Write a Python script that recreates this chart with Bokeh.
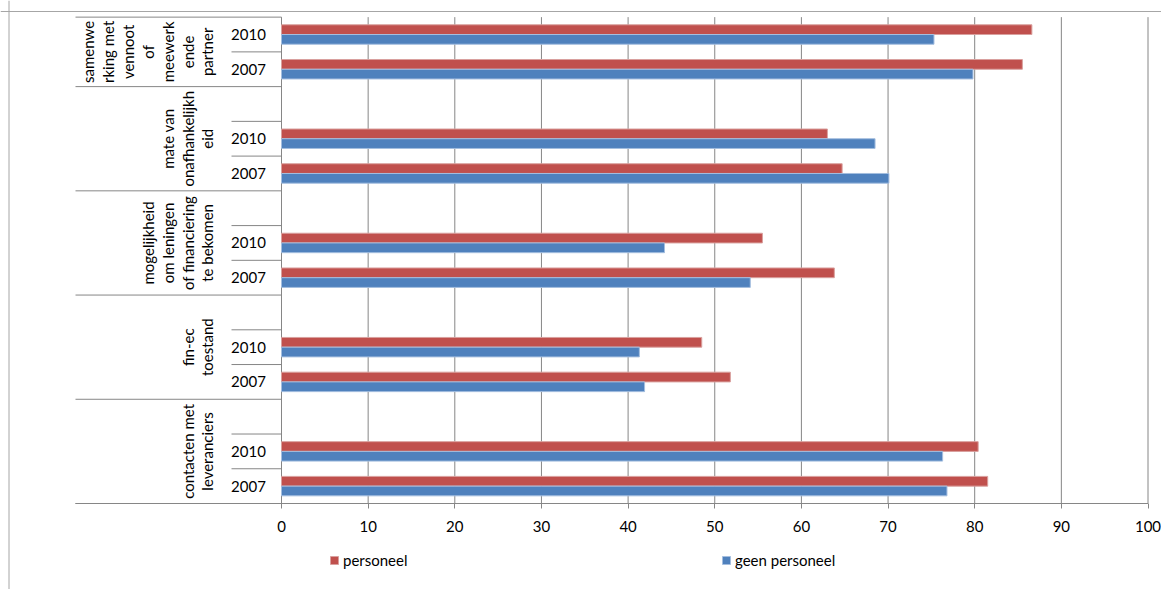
import numpy as np
from bokeh.plotting import figure
from bokeh.models import Range1d, FixedTicker, Legend, LegendItem, Span, ColumnDataSource
from bokeh.core.properties import value
from bokeh.embed import file_html
from bokeh.resources import INLINE

# ---------------- data ----------------
groups = [
    "contacten met\nleveranciers",
    "fin-ec\ntoestand",
    "mogelijkheid\nom leningen\nof financiering\nte bekomen",
    "mate van\nonafhankelijkh\neid",
    "samenwe\nrking met\nvennoot\nof\nmeewerk\nende\npartner",
]
years = ["2007", "2010"]
# values per group, in order (2007, 2010)
personeel = [81.5, 80.4, 51.8, 48.5, 63.8, 55.5, 64.7, 63.0, 85.5, 86.6]
geen_personeel = [76.8, 76.3, 41.9, 41.3, 54.1, 44.2, 70.1, 68.5, 79.8, 75.3]
x_ticks = [0, 10, 20, 30, 40, 50, 60, 70, 80, 90, 100]
series_names = ["personeel", "geen personeel"]

# ---------------- layout helpers ----------------
W, H = 1161, 589
PAGE = 0
X0_PX, X_SCALE = 281, 8.665          # page px of value 0, px per unit
YB_PX, Y_SCALE = 503, 34.74           # page px of bottom row edge, px per row

def px2x(px):
    return (px - X0_PX) / X_SCALE

def px2y(py):
    return 0.5 + (YB_PX - py) / Y_SCALE

RED, BLUE = "#C0504D", "#4F81BD"
GRID = "#868686"
FONT = value("Lato")

n_groups = len(groups)
n_years = len(years)
rows = [3 * g + k + 1 for g in range(n_groups) for k in range(n_years)]
year_labels = [years[k] for g in range(n_groups) for k in range(n_years)]
top_row = max(rows) + 0.5
group_centers = [(3 * g + 0.5 + min(3 * g + 3.5, top_row)) / 2 for g in range(n_groups)]

p = figure(width=W, height=H, output_backend="svg", toolbar_location=None,
           x_range=Range1d(px2x(PAGE), px2x(PAGE + W)),
           y_range=Range1d(px2y(PAGE + H), px2y(PAGE)),
           y_axis_location=None,
           min_border_left=0, min_border_right=0, min_border_top=0,
           min_border_bottom=0)
p.outline_line_color = None
p.xgrid.grid_line_color = None
p.ygrid.grid_line_color = None
p.background_fill_color = "white"
p.border_fill_color = "white"

# vertical grid lines (0..100)
p.segment(x0=x_ticks, x1=x_ticks, y0=[0.5] * len(x_ticks), y1=[top_row] * len(x_ticks),
          line_color=GRID, line_width=1)

# category axis structure
cat_left = px2x(75)
year_left = px2x(231)
group_bounds = [3 * g + 0.5 for g in range(n_groups)] + [top_row]
p.segment(x0=[cat_left] * len(group_bounds), x1=[0] * len(group_bounds),
          y0=group_bounds, y1=group_bounds, line_color=GRID, line_width=1)
row_bounds = sorted(set(r + 0.5 for r in rows) - set(group_bounds))
p.segment(x0=[year_left] * len(row_bounds), x1=[0] * len(row_bounds),
          y0=row_bounds, y1=row_bounds, line_color=GRID, line_width=1)
# bottom axis line
p.segment(x0=[cat_left], x1=[x_ticks[-1]], y0=[0.5], y1=[0.5], line_color=GRID, line_width=1)

# bars
BH = 0.28
src = ColumnDataSource(dict(
    y_red=[r + BH / 2 for r in rows],
    y_blue=[r - BH / 2 for r in rows],
    personeel=personeel,
    geen=geen_personeel,
))
r_red = p.hbar(y="y_red", left=0, right="personeel", height=BH, source=src,
               fill_color=RED, line_color="#D9A09E", line_width=1)
r_blue = p.hbar(y="y_blue", left=0, right="geen", height=BH, source=src,
                fill_color=BLUE, line_color="#A4BEDF", line_width=1)

# year labels
p.text(x=[px2x(248)] * len(rows), y=rows, text=year_labels,
       text_align="center", text_baseline="middle",
       text_font=FONT, text_font_size="15px", text_color="#000000")

# group labels (rotated)
p.text(x=[px2x(216)] * n_groups, y=group_centers, text=groups, angle=np.pi / 2,
       text_align="center", text_baseline="bottom", text_line_height=1.11,
       text_font=FONT, text_font_size="15px", text_color="#000000")

# outer chart border (top and left)
p.add_layout(Span(location=px2y(11), dimension="width", line_color="#A6A6A6", line_width=1))
p.add_layout(Span(location=px2x(8.5), dimension="height", line_color="#A6A6A6", line_width=1))

# x axis, drawn at the bottom edge of the bars area
ax = p.xaxis[0]
ax.fixed_location = 0.5
ax.ticker = FixedTicker(ticks=x_ticks)
ax.axis_line_color = None
ax.major_tick_line_color = GRID
ax.major_tick_out = 5
ax.major_tick_in = 0
ax.minor_tick_line_color = None
ax.major_label_standoff = 12
ax.major_label_text_font = "Lato"
ax.major_label_text_font_size = "15px"
ax.major_label_text_color = "#000000"

common = dict(orientation="horizontal", glyph_width=10, glyph_height=10, label_standoff=4,
              padding=0, margin=0, border_line_color=None, background_fill_alpha=0,
              label_text_font="Lato", label_text_font_size="15px",
              label_text_color="#000000")
leg1 = Legend(items=[LegendItem(label=series_names[0], renderers=[r_red])],
              location=(329, 20), **common)
leg2 = Legend(items=[LegendItem(label=series_names[1], renderers=[r_blue])],
              location=(721, 20), **common)
p.add_layout(leg1)
p.add_layout(leg2)

open("out.html", "w").write(file_html(p, INLINE))
